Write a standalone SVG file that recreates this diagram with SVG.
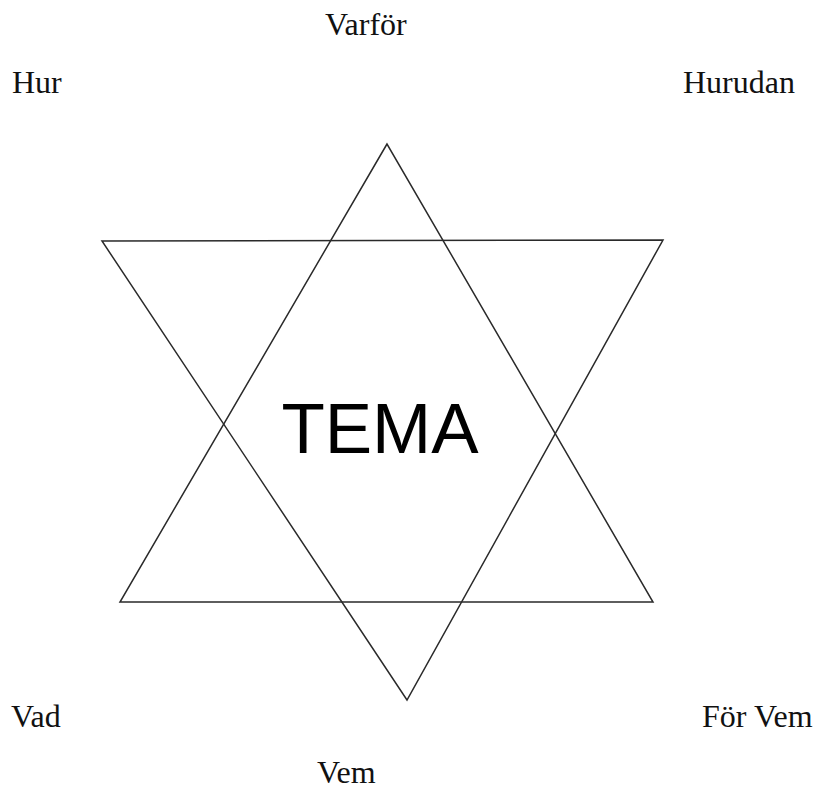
<svg xmlns="http://www.w3.org/2000/svg" width="824" height="791" viewBox="0 0 824 791">
<style>
.lbl{font-family:"Liberation Serif","Times New Roman",serif;font-size:32px;fill:#111}
.tri{fill:none;stroke:#2a2a2a;stroke-width:1.5;stroke-linejoin:miter}
.tema{font-family:"Liberation Sans",Arial,sans-serif;font-size:71px;fill:#000}
</style>
<rect width="824" height="791" fill="#fff"/>
<g id="connectors">
<polygon id="tri-up" class="tri" points="387,144 120,602 653,602"/>
<polygon id="tri-down" class="tri" points="102,241 663,240 407,700"/>
</g>
<g id="node-tema"><text class="tema" x="380" y="453" text-anchor="middle">TEMA</text></g>
<g id="node-varfor"><text class="lbl" x="325" y="35">Varför</text></g>
<g id="node-hur"><text class="lbl" x="12" y="93">Hur</text></g>
<g id="node-hurudan"><text class="lbl" x="683" y="93">Hurudan</text></g>
<g id="node-vad"><text class="lbl" x="11" y="727">Vad</text></g>
<g id="node-forvem"><text class="lbl" x="702" y="727">För Vem</text></g>
<g id="node-vem"><text class="lbl" x="317" y="783">Vem</text></g>
</svg>
